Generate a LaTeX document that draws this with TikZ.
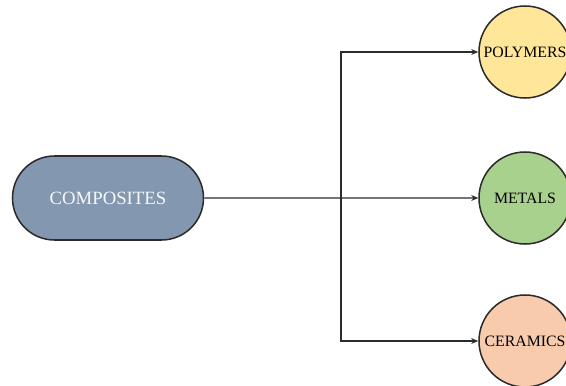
\documentclass[tikz,border=0pt]{standalone}
\usepackage{fontspec}
\setmainfont{Liberation Serif}
\usetikzlibrary{shapes.misc,arrows.meta}

\definecolor{slate}{HTML}{8497B0}
\definecolor{polyfill}{HTML}{FFE699}
\definecolor{metalfill}{HTML}{A9D18E}
\definecolor{cerafill}{HTML}{F8CBAD}
\definecolor{edge}{HTML}{2B2B2B}

\begin{document}
\begin{tikzpicture}[x=0.03cm, y=-0.03cm,
    every node/.style={draw=edge, line width=1.3pt, inner sep=0pt},
    material/.style={circle, minimum size=2.76cm, font=\fontsize{13.5}{14}\selectfont},
    link/.style={draw=edge, line width=1.1pt, -{Stealth[length=6pt,width=5pt]}}]
      \useasboundingbox (0,0) rectangle (566,385);

      \node[rounded rectangle, fill=slate, minimum width=5.73cm, minimum height=2.52cm,
            text=white!92!slate, font=\fontsize{16}{18}\selectfont] (comp) at (108,198) {COMPOSITES};
      \node[material, fill=polyfill] (poly) at (525,52) {POLYMERS};
      \node[material, fill=metalfill] (metal) at (525,198) {METALS};
      \node[material, fill=cerafill] (cera) at (525,341) {CERAMICS};

      \coordinate (split) at (341,198);

      \draw[link] (comp) -- (metal);
      \draw[link] (split) |- (poly.west);
      \draw[link] (split) |- (cera.west);
    \end{tikzpicture}
\end{document}
